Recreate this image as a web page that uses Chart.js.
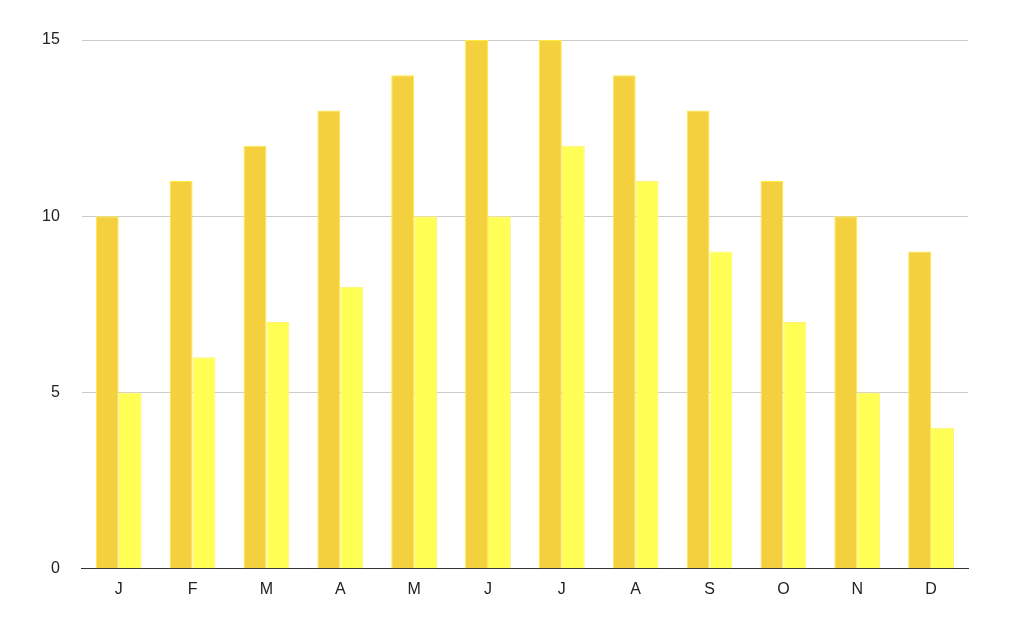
<!DOCTYPE html>
<html>
<head>
<script src="https://cdn.jsdelivr.net/npm/chart.js@4"></script>
<style>
body { margin: 0; background: #fff; }
#wrap { width: 1010px; height: 622px; }
</style>
</head>
<body>
<div id="wrap"><canvas id="chart"></canvas></div>
<script>
const months = ['J', 'F', 'M', 'A', 'M', 'J', 'J', 'A', 'S', 'O', 'N', 'D'];
const seriesA = [10, 11, 12, 13, 14, 15, 15, 14, 13, 11, 10, 9];
const seriesB = [5, 6, 7, 8, 10, 10, 12, 11, 9, 7, 5, 4];

new Chart(document.getElementById('chart'), {
    type: 'bar',
    data: {
        labels: months,
        datasets: [
            { data: seriesA, backgroundColor: '#F4D03F', borderColor: '#FFEB3B', borderWidth: 1 },
            { data: seriesB, backgroundColor: '#FFFF55', borderColor: '#FFF176', borderWidth: 1 }
        ]
    },
    options: {
        responsive: true,
        maintainAspectRatio: false,
        animation: false,
        layout: { padding: { left: 20, right: 42, top: 40, bottom: 20 } },
        plugins: { legend: { display: false }, tooltip: { enabled: false } },
        categoryPercentage: 0.62,
        barPercentage: 1.0,
        scales: {
            x: {
                grid: { display: false },
                border: { color: '#333' },
                ticks: { color: '#222', font: { family: 'Liberation Sans', size: 16 } }
            },
            y: {
                min: 0, max: 15,
                ticks: { stepSize: 5, color: '#222', padding: 22, font: { family: 'Liberation Sans', size: 16 } },
                grid: { color: '#ccc', drawTicks: false },
                border: { display: false }
            }
        }
    }
});
</script>
</body>
</html>
